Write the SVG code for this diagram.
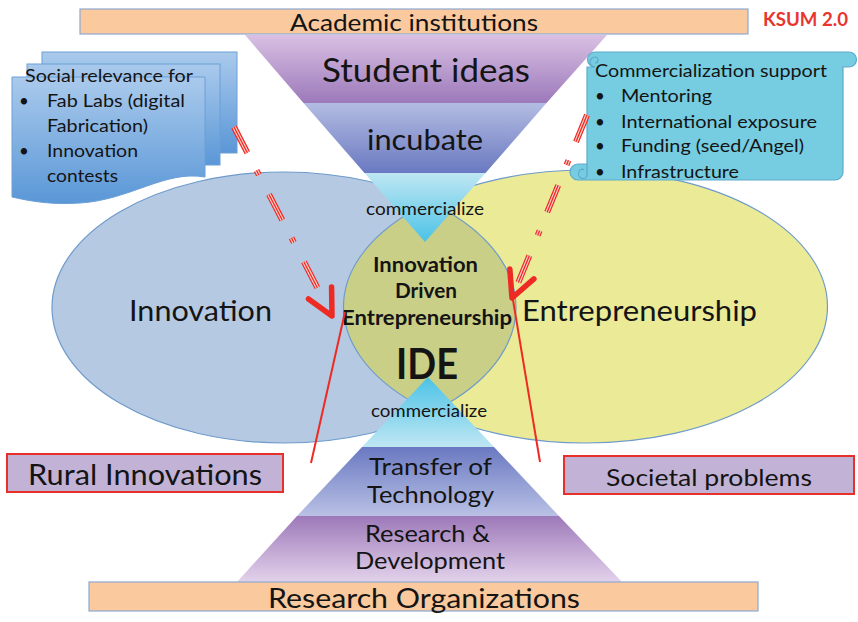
<svg xmlns="http://www.w3.org/2000/svg" width="858" height="622" viewBox="0 0 858 622">
<style>
text{font-family:Lato,"Open Sans","Liberation Sans",sans-serif;fill:#141414}
.c{text-anchor:middle}
.b{font-weight:bold}
.bar{fill:#FAC99E;stroke:#8FA9D2;stroke-width:1.2}
.tag{fill:#C2B2D6;stroke:#E8302A;stroke-width:2}
.ell{fill:none;stroke:#6E9BCB;stroke-width:1.2}
.thin{stroke:#EE2A24;stroke-width:2;fill:none}
.dd0{fill:none;stroke:#EE2A24;stroke-width:6;stroke-dasharray:29 20 5 22 29 20 5 22 29 300}
.dd1{fill:none;stroke:#FAD0CC;stroke-width:3.6;stroke-dasharray:29 20 5 22 29 20 5 22 29 300}
.dd2{fill:none;stroke:#EE2A24;stroke-width:1.3;stroke-dasharray:29 20 5 22 29 20 5 22 29 300}
.page{stroke:#6C9FD6;stroke-width:1}
</style>
<defs>
<linearGradient id="gStu" x1="0" y1="0" x2="0" y2="1"><stop offset="0" stop-color="#D9C0E3"/><stop offset="1" stop-color="#9C79BA"/></linearGradient>
<linearGradient id="gInc" x1="0" y1="0" x2="0" y2="1"><stop offset="0" stop-color="#B3BCE2"/><stop offset="1" stop-color="#6A79C1"/></linearGradient>
<linearGradient id="gCom" x1="0" y1="0" x2="0" y2="1"><stop offset="0" stop-color="#BFE7F3"/><stop offset="1" stop-color="#4CC2E6"/></linearGradient>
<linearGradient id="gCom2" x1="0" y1="0" x2="0" y2="1"><stop offset="0" stop-color="#4CC2E6"/><stop offset="1" stop-color="#BFE7F3"/></linearGradient>
<linearGradient id="gTra" x1="0" y1="0" x2="0" y2="1"><stop offset="0" stop-color="#6A79C1"/><stop offset="1" stop-color="#B9C1E5"/></linearGradient>
<linearGradient id="gRD" x1="0" y1="0" x2="0" y2="1"><stop offset="0" stop-color="#9D79B9"/><stop offset="1" stop-color="#E3D2EB"/></linearGradient>
<linearGradient id="gDoc" x1="0" y1="0" x2="0" y2="1"><stop offset="0" stop-color="#AACAEC"/><stop offset="1" stop-color="#5A97D7"/></linearGradient>
<clipPath id="clipL"><ellipse cx="284" cy="307.5" rx="232" ry="135.5"/></clipPath>
<marker id="chev" markerUnits="userSpaceOnUse" markerWidth="44" markerHeight="44" viewBox="-36 -22 44 44" refX="0" refY="0" orient="auto">
<path d="M-26,-13 L0,0 L-26,13" fill="none" stroke="#EE2A24" stroke-width="5.5" stroke-linecap="round" stroke-linejoin="round"/>
</marker>
</defs>
<rect width="858" height="622" fill="#ffffff"/>

<g id="innovation">
<ellipse cx="284" cy="307.5" rx="232" ry="135.5" fill="#B5C9E2"/>
</g>
<g id="entrepreneurship">
<ellipse cx="585.5" cy="306.5" rx="242" ry="136.5" fill="#EBEA97"/>
</g>
<g id="ide">
<ellipse cx="585.5" cy="306.5" rx="242" ry="136.5" fill="#C9CF87" clip-path="url(#clipL)"/>
</g>
<g id="ellipse-outlines">
<ellipse class="ell" cx="284" cy="307.5" rx="232" ry="135.5"/>
<ellipse class="ell" cx="585.5" cy="306.5" rx="242" ry="136.5"/>
</g>
<g id="innovation-label"><text class="c" x="200.5" y="321" font-size="29" textLength="143" lengthAdjust="spacingAndGlyphs">Innovation</text></g>
<g id="entrepreneurship-label"><text class="c" x="639.5" y="321" font-size="29" textLength="235" lengthAdjust="spacingAndGlyphs">Entrepreneurship</text></g>

<g id="top-funnel">
<polygon points="245,35 607,35 546.5,103 303.5,103" fill="url(#gStu)"/>
<polygon points="303.5,103 546.5,103 485.5,173 364.5,173" fill="url(#gInc)"/>
<polygon points="364.5,173 485.5,173 425,242" fill="url(#gCom)"/>
<text class="c" x="426" y="82" font-size="32" textLength="208" lengthAdjust="spacingAndGlyphs">Student ideas</text>
<text class="c" x="425" y="150" font-size="29" textLength="116" lengthAdjust="spacingAndGlyphs">incubate</text>
<text class="c" x="425" y="215" font-size="17.5" textLength="118" lengthAdjust="spacingAndGlyphs">commercialize</text>
</g>

<g id="bottom-funnel">
<polygon points="428,377 494,447 362,447" fill="url(#gCom2)"/>
<polygon points="362,447 494,447 559,516 297,516" fill="url(#gTra)"/>
<polygon points="297,516 559,516 622,582 237,582" fill="url(#gRD)"/>
<text class="c" x="429" y="417" font-size="17.5" textLength="116" lengthAdjust="spacingAndGlyphs">commercialize</text>
<text class="c" x="430.5" y="475" font-size="23" textLength="123" lengthAdjust="spacingAndGlyphs">Transfer of</text>
<text class="c" x="430.5" y="503" font-size="23" textLength="127" lengthAdjust="spacingAndGlyphs">Technology</text>
<text class="c" x="427.5" y="542" font-size="23" textLength="125" lengthAdjust="spacingAndGlyphs">Research &amp;</text>
<text class="c" x="430" y="569" font-size="23" textLength="150" lengthAdjust="spacingAndGlyphs">Development</text>
</g>

<g id="ide-label">
<text class="c b" x="425.5" y="272" font-size="20" textLength="105" lengthAdjust="spacingAndGlyphs">Innovation</text>
<text class="c b" x="426" y="298" font-size="20" textLength="62" lengthAdjust="spacingAndGlyphs">Driven</text>
<text class="c b" x="427" y="325" font-size="20" textLength="170" lengthAdjust="spacingAndGlyphs">Entrepreneurship</text>
<text class="c b" x="427" y="379" font-size="42" textLength="62" lengthAdjust="spacingAndGlyphs">IDE</text>
</g>

<g id="academic-institutions">
<rect class="bar" x="80" y="9" width="668" height="25"/>
<text class="c" x="414" y="31" font-size="24" textLength="248" lengthAdjust="spacingAndGlyphs">Academic institutions</text>
</g>
<g id="research-organizations">
<rect class="bar" x="89" y="582" width="669" height="29"/>
<text class="c" x="424" y="608" font-size="27" textLength="312" lengthAdjust="spacingAndGlyphs">Research Organizations</text>
</g>
<g id="ksum"><text x="763" y="26" font-size="18" class="b" style="fill:#E8352F" textLength="85" lengthAdjust="spacingAndGlyphs">KSUM 2.0</text></g>

<g id="social-relevance">
<rect class="page" x="42" y="52" width="195" height="101" fill="url(#gDoc)"/>
<rect class="page" x="27" y="64" width="193" height="101" fill="url(#gDoc)"/>
<path class="page" d="M12,77 H205 V177 C165,170 130,200 80,203 C50,205 30,201 12,197 Z" fill="url(#gDoc)"/>
<text x="25" y="82" font-size="17" textLength="168" lengthAdjust="spacingAndGlyphs">Social relevance for</text>
<text x="19" y="107" font-size="17">•</text><text x="47" y="107" font-size="17" textLength="138" lengthAdjust="spacingAndGlyphs">Fab Labs (digital</text>
<text x="47" y="132" font-size="17" textLength="101" lengthAdjust="spacingAndGlyphs">Fabrication)</text>
<text x="19" y="157" font-size="17">•</text><text x="47" y="157" font-size="17" textLength="91" lengthAdjust="spacingAndGlyphs">Innovation</text>
<text x="47" y="182" font-size="17" textLength="71" lengthAdjust="spacingAndGlyphs">contests</text>
</g>

<g id="commercialization-support">
<path d="M595,52 H849 A7.5,7.5 0 0 1 849,67 H843 V172 A8,8 0 0 1 835,180 H578 A8,8 0 0 1 578,164 H587 V67 H595 A7.5,7.5 0 0 1 595,52 Z" fill="#76CCE0" stroke="#5EA9CB" stroke-width="1.2"/>
<path d="M595,67 A5,5 0 0 1 595,57 A3,3 0 0 1 595,63" fill="none" stroke="#5EA9CB" stroke-width="1.2"/>
<path d="M587,164 V176 A4,4 0 0 1 579,172 A3,3 0 0 1 584,170" fill="none" stroke="#5EA9CB" stroke-width="1.2"/>
<text x="595" y="77" font-size="17" textLength="232" lengthAdjust="spacingAndGlyphs">Commercialization support</text>
<text x="595" y="102" font-size="17">•</text><text x="621" y="102" font-size="17" textLength="91" lengthAdjust="spacingAndGlyphs">Mentoring</text>
<text x="595" y="128" font-size="17">•</text><text x="621" y="128" font-size="17" textLength="196" lengthAdjust="spacingAndGlyphs">International exposure</text>
<text x="595" y="152" font-size="17">•</text><text x="621" y="152" font-size="17" textLength="183" lengthAdjust="spacingAndGlyphs">Funding (seed/Angel)</text>
<text x="595" y="178" font-size="17">•</text><text x="621" y="178" font-size="17" textLength="118" lengthAdjust="spacingAndGlyphs">Infrastructure</text>
</g>

<g id="rural-innovations">
<rect class="tag" x="7" y="454" width="276" height="38"/>
<text class="c" x="145" y="485" font-size="28" textLength="234" lengthAdjust="spacingAndGlyphs">Rural Innovations</text>
</g>
<g id="societal-problems">
<rect class="tag" x="564" y="456" width="290" height="38"/>
<text class="c" x="709" y="486" font-size="23" textLength="206" lengthAdjust="spacingAndGlyphs">Societal problems</text>
</g>

<g id="connectors">
<line class="thin" x1="345" y1="312" x2="311" y2="463"/>
<line class="thin" x1="513" y1="300" x2="540" y2="462"/>
<path class="dd0" d="M234,127 L332,316" marker-end="url(#chev)"/>
<path class="dd1" d="M234,127 L332,316"/>
<path class="dd2" d="M234,127 L332,316"/>
<path class="dd0" d="M587,115 L512,298" marker-end="url(#chev)"/>
<path class="dd1" d="M587,115 L512,298"/>
<path class="dd2" d="M587,115 L512,298"/>
</g>
</svg>
